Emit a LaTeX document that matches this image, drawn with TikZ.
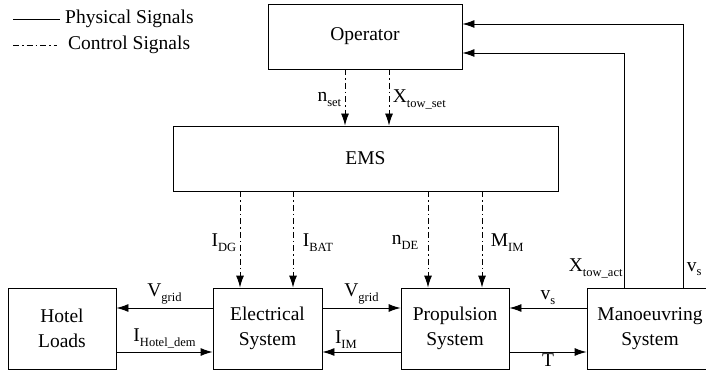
\documentclass[tikz,border=0pt]{standalone}
\usepackage{fontspec}
\setmainfont{Liberation Serif}
\usetikzlibrary{arrows.meta,calc}
\newcommand{\lowsub}[1]{\raisebox{-0.55ex}{\fontsize{12.5}{13}\selectfont #1}}

\begin{document}
\begin{tikzpicture}[x=1pt,y=-1pt,
    every node/.style={font=\fontsize{19.5}{25}\selectfont},
    block/.style={draw,line width=0.9pt,align=center,inner sep=0pt},
    sig/.style={line width=0.9pt,-{Latex[length=12pt,width=8pt]}},
    ctrl/.style={sig,dash pattern=on 6pt off 3pt on 1.5pt off 3pt}]
  \useasboundingbox (0,0) rectangle (706,371);
  \clip (0,0) rectangle (706,371);
  % blocks
  \node[block,minimum width=194,minimum height=65] (ops) at (365,36.5) {Operator};
  \node[block,minimum width=385,minimum height=65] (ems) at (365.5,158.5) {EMS};
  \node[block,minimum width=108,minimum height=81] (hot) at (62,328.5) {Hotel\\Loads};
  \node[block,minimum width=109,minimum height=81] (ele) at (267.5,328.5) {Electrical\\System};
  \node[block,minimum width=108,minimum height=81] (pro) at (455,328.5) {Propulsion\\System};
  \node[block,minimum width=126,minimum height=81] (man) at (650,328.5) {Manoeuvring\\System};
  % legend
  \node[anchor=west,inner sep=0pt] (phys) at (65,19) {Physical Signals};
  \node[anchor=west,inner sep=0pt] (ctlt) at (68,45) {Control Signals};
  \coordinate (lg) at (13,0);
  \draw[line width=0.9pt,shorten >=5pt] (lg |- phys.west) -- (phys.west);
  \draw[line width=0.9pt,dash pattern=on 6pt off 3pt on 1.5pt off 3pt,shorten >=11pt] (lg |- ctlt.west) -- (ctlt.west);
  % helper positions
  \coordinate (xn) at (345,0);
  \coordinate (xx) at (389,0);
  \coordinate (xdg) at (240,0);
  \coordinate (xbat) at (293,0);
  \coordinate (xde) at (428,0);
  \coordinate (xim) at (482,0);
  \coordinate (yu) at (0,308);
  \coordinate (yl) at (0,352);
  \coordinate (fa) at (624,53);
  \coordinate (fb) at (683,24);
  % control signals
  \draw[ctrl] (ops.south -| xn) -- node[left,pos=0.54] {n\lowsub{set}} (ems.north -| xn);
  \draw[ctrl] (ops.south -| xx) -- node[right,pos=0.54] {X\lowsub{tow\_set}} (ems.north -| xx);
  \draw[ctrl] (ems.south -| xdg) -- node[left,pos=0.53] {I\lowsub{DG}} (ele.north -| xdg);
  \draw[ctrl] (ems.south -| xbat) -- node[right,pos=0.53,xshift=6pt] {I\lowsub{BAT}} (ele.north -| xbat);
  \draw[ctrl] (ems.south -| xde) -- node[left,pos=0.53,xshift=-6pt] {n\lowsub{DE}} (pro.north -| xde);
  \draw[ctrl] (ems.south -| xim) -- node[right,pos=0.53,xshift=5pt] {M\lowsub{IM}} (pro.north -| xim);
  % physical signals
  \draw[sig] (ele.west |- yu) -- node[above] {V\lowsub{grid}} (hot.east |- yu);
  \draw[sig] (hot.east |- yl) -- node[above] {I\lowsub{Hotel\_dem}} (ele.west |- yl);
  \draw[sig] (ele.east |- yu) -- node[above] {V\lowsub{grid}} (pro.west |- yu);
  \draw[sig] (pro.west |- yl) -- node[above,pos=0.7] {I\lowsub{IM}} (ele.east |- yl);
  \draw[sig] (man.west |- yu) -- node[above] {v\lowsub{s}} (pro.east |- yu);
  \draw[sig] (pro.east |- yl) -- node[below,inner sep=1pt] {T} (man.west |- yl);
  \draw[sig] (man.north -| fa) |- node[left,pos=0.04,inner sep=1pt] {X\lowsub{tow\_act}} (ops.east |- fa);
  \draw[sig] (man.north -| fb) |- node[right,pos=0.035] {v\lowsub{s}} (ops.east |- fb);
\end{tikzpicture}
\end{document}
